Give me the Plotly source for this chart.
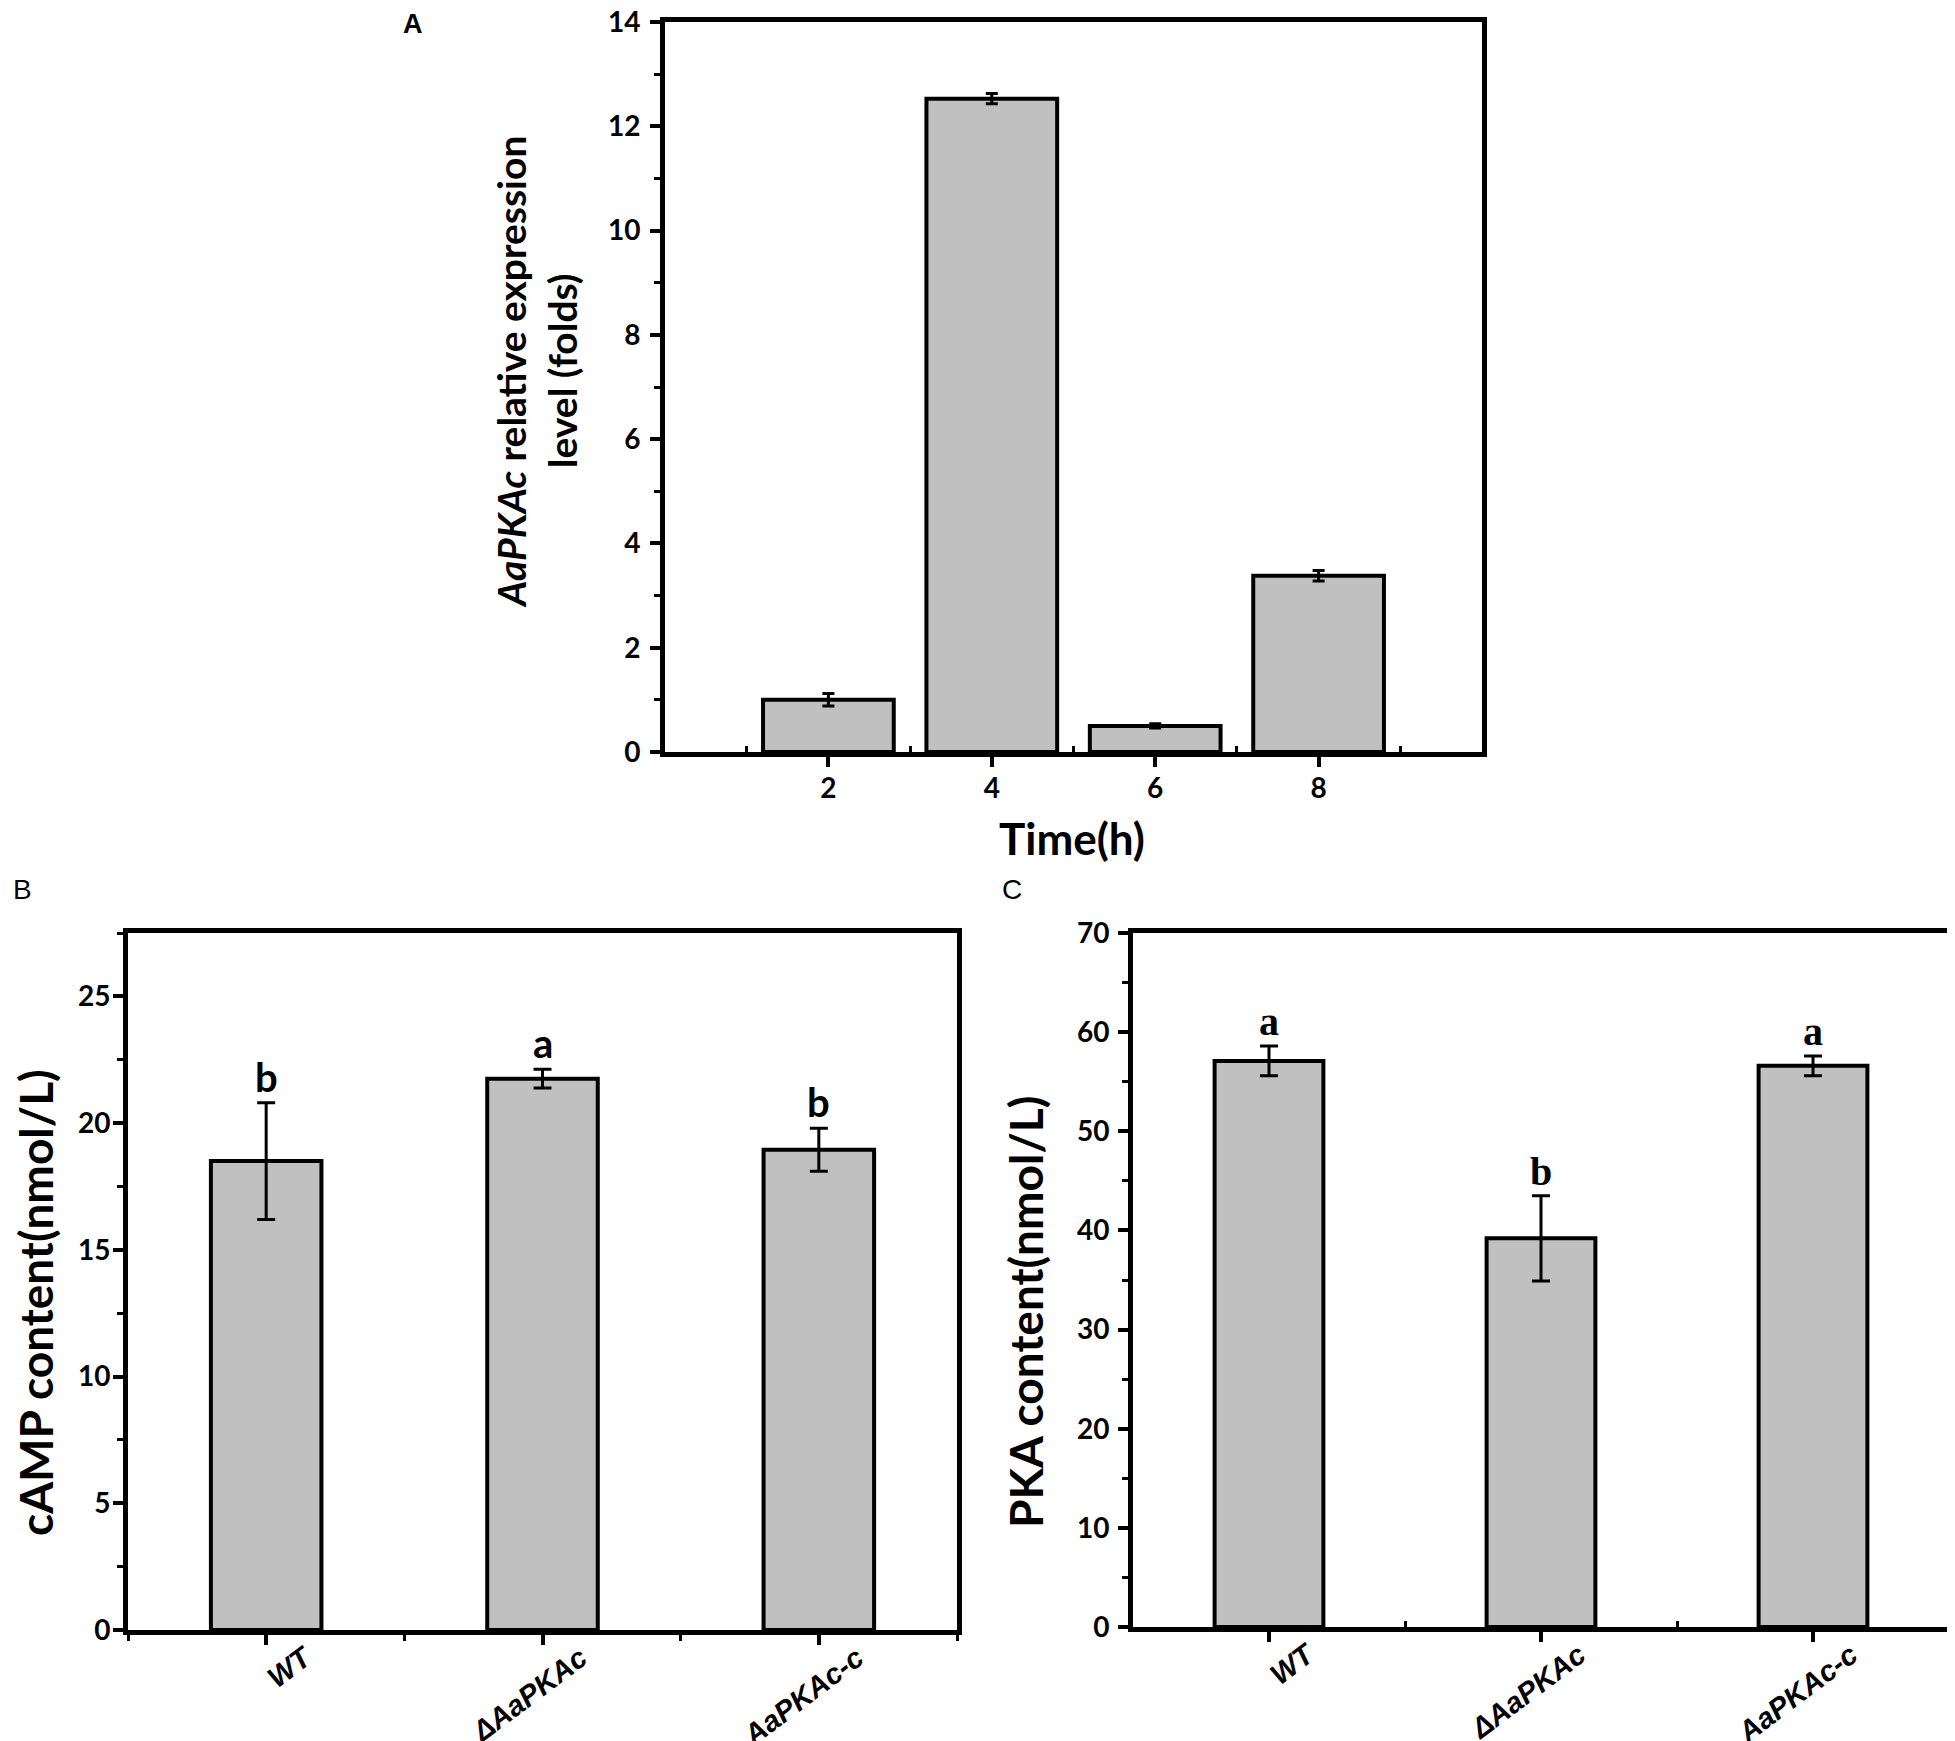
import plotly.graph_objects as go

# panel A: relative expression over time
time_h = [2, 4, 6, 8]
expr = [1.0, 12.53, 0.50, 3.38]
expr_err = [0.12, 0.10, 0.04, 0.10]

# panels B and C: strains
strains = ["WT", "ΔAaPKAc", "AaPKAc-c"]
camp = [18.5, 21.75, 18.95]
camp_err = [2.3, 0.37, 0.85]
camp_sig = ["b", "a", "b"]

pka = [57.1, 39.2, 56.6]
pka_err = [1.5, 4.3, 1.0]
pka_sig = ["a", "b", "a"]

W, H = 1955, 1741
OFF = 8  # page body margin
BAR = "#c0c0c0"
SANS = "Lato"
tickfont = dict(family=SANS, size=28, color="black", weight="bold")


def px(x):
    return (x - OFF) / W


def py(y):
    return 1 - (y - OFF) / H


pos = list(range(len(strains)))

fig = go.Figure()
fig.add_trace(go.Bar(
    x=time_h, y=expr, width=1.6, xaxis="x", yaxis="y",
    marker=dict(color=BAR, line=dict(color="black", width=4)),
    error_y=dict(type="data", array=expr_err, color="black", thickness=3, width=6),
))
fig.add_trace(go.Bar(
    x=pos, y=camp, width=0.4, xaxis="x2", yaxis="y2",
    marker=dict(color=BAR, line=dict(color="black", width=4)),
    error_y=dict(type="data", array=camp_err, color="black", thickness=3, width=9),
))
fig.add_trace(go.Bar(
    x=pos, y=pka, width=0.4, xaxis="x3", yaxis="y3",
    marker=dict(color=BAR, line=dict(color="black", width=4)),
    error_y=dict(type="data", array=pka_err, color="black", thickness=3, width=9),
))

common = dict(showline=True, linecolor="black", linewidth=5, mirror=True,
              showgrid=False, zeroline=False, ticks="outside", ticklen=10,
              tickwidth=4, tickcolor="black", tickfont=tickfont, automargin=False,
              ticklabeloverflow="allow")
minor_tick = dict(ticklen=6, tickwidth=3, tickcolor="black")
cat_font = dict(family="Liberation Sans", size=29,
                color="black", weight="bold", style="italic")

fig.update_layout(
    width=W, height=H, showlegend=False,
    margin=dict(l=0, r=0, t=0, b=0, autoexpand=False),
    paper_bgcolor="white", plot_bgcolor="white",
    xaxis=dict(common, domain=[px(665), px(1482)], range=[0, 10],
               tickvals=time_h, ticklabelstandoff=-3, anchor="y",
               minor=dict(minor_tick, tickvals=[1, 3, 5, 7, 9], ticks="inside")),
    yaxis=dict(common, domain=[py(752), py(22)], range=[0, 14], dtick=2,
               ticklabelstandoff=4, anchor="x",
               minor=dict(minor_tick, dtick=1, ticks="outside")),
    xaxis2=dict(common, domain=[px(128), px(957)], range=[-0.5, 2.5],
                tickvals=pos, ticktext=strains, tickangle=-37, tickfont=cat_font,
                ticklabelshift=38, ticklabelstandoff=-15, anchor="y2",
                minor=dict(minor_tick, tickvals=[-0.5, 0.5, 1.5, 2.5], ticks="outside")),
    yaxis2=dict(common, domain=[py(1630), py(933)], range=[0, 27.5], dtick=5,
                ticklabelstandoff=-3, anchor="x2",
                minor=dict(minor_tick, dtick=2.5, ticks="outside")),
    xaxis3=dict(common, domain=[px(1133), px(1949)], range=[-0.5, 2.5],
                tickvals=pos, ticktext=strains, tickangle=-37, tickfont=cat_font,
                ticklabelshift=38, ticklabelstandoff=-15, anchor="y3",
                minor=dict(minor_tick, tickvals=[0.5, 1.5], ticks="inside")),
    yaxis3=dict(common, domain=[py(1627), py(933)], range=[0, 70], dtick=10,
                ticklabelstandoff=3, anchor="x3",
                minor=dict(minor_tick, dtick=5, ticks="outside")),
)

ann = []


def label(x, y, text, font, angle=0):
    ann.append(dict(x=px(x), y=py(y), xref="paper", yref="paper", text=text,
                    textangle=angle, xanchor="center", yanchor="middle",
                    font=font, showarrow=False))


title_font = dict(family=SANS, size=46, color="black", weight="bold")

# axis titles
label(537, 372, "<i>AaPKAc</i> relative expression<br>level (folds)",
      dict(title_font, size=39), -90)
label(1072, 838, "Time(h)", dict(title_font, size=44))
label(35, 1303, "cAMP content(nmol/L)", title_font, -90)
label(1025, 1312, "PKA content(nmol/L)", title_font, -90)

# panel letters
label(413, 24, "A", dict(family="Liberation Sans", size=27, color="black", weight="bold"))
label(22, 889, "B", dict(family="Liberation Sans", size=28, color="black"))
label(1012, 889, "C", dict(family="Liberation Sans", size=28, color="black"))

# significance letters
for i, v, e, s in zip(pos, camp, camp_err, camp_sig):
    ann.append(dict(x=i, y=v + e, xref="x2", yref="y2", text=s, yanchor="bottom",
                    yshift=0, showarrow=False,
                    font=dict(family=SANS, size=40, color="black", weight="bold")))
for i, v, e, s in zip(pos, pka, pka_err, pka_sig):
    ann.append(dict(x=i, y=v + e, xref="x3", yref="y3", text=s, yanchor="bottom",
                    yshift=0, showarrow=False,
                    font=dict(family="Liberation Serif", size=40, color="black",
                              weight="bold")))

fig.update_layout(annotations=ann)

fig.write_html("out.html")
